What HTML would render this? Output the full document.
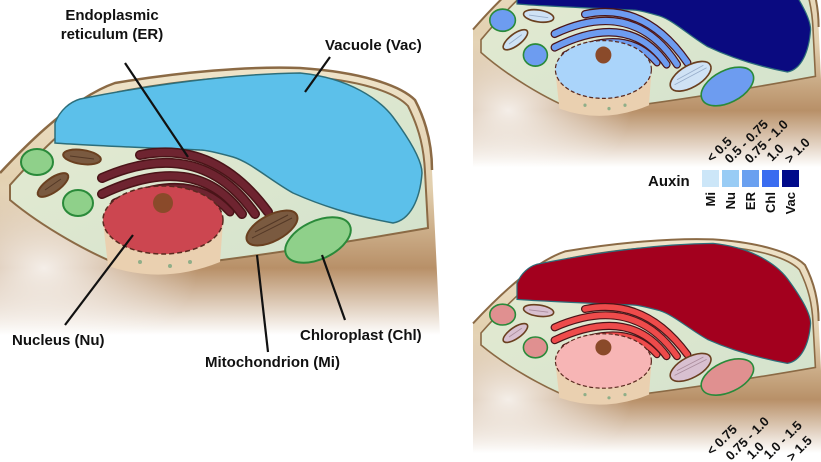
<!DOCTYPE html>
<html><head><meta charset="utf-8"><style>
html,body{margin:0;padding:0;background:#fff;}
svg{display:block;}
text{font-family:"Liberation Sans",sans-serif;font-weight:bold;fill:#111;}
</style></head><body>
<svg width="821" height="462" viewBox="0 0 821 462" xmlns="http://www.w3.org/2000/svg">
<defs>
<linearGradient id="wallg" x1="0" y1="0" x2="0" y2="1">
<stop offset="0" stop-color="#efe4ca"/><stop offset="0.45" stop-color="#e2cfae"/><stop offset="0.75" stop-color="#b89068"/><stop offset="1" stop-color="#ffffff"/>
</linearGradient>
<radialGradient id="leftlight" cx="0.1" cy="0.75" r="0.35">
<stop offset="0" stop-color="#ffffff" stop-opacity="0.85"/><stop offset="1" stop-color="#ffffff" stop-opacity="0"/>
</radialGradient>
<linearGradient id="floorg" x1="0" y1="0" x2="1" y2="1">
<stop offset="0" stop-color="#e6ebd2"/><stop offset="1" stop-color="#d2e2cc"/>
</linearGradient>
<g id="cell">
<path d="M0,173 C40,130 80,95 115,83 C180,72 250,66 300,68 C360,72 400,85 415,100 C428,125 432,150 432,170 L440,335 L0,335 Z" fill="url(#wallg)"/>
<path d="M0,173 C40,130 80,95 115,83 C180,72 250,66 300,68 C360,72 400,85 415,100 C428,125 432,150 432,170 L440,335 L0,335 Z" fill="url(#leftlight)"/>
<path d="M0,173 C40,130 80,95 115,83 C180,72 250,66 300,68 C360,72 400,85 415,100 C428,125 432,150 432,170" fill="none" stroke="#8b6a45" stroke-width="2.5"/>
<path d="M10,185 C50,140 90,105 118,92 C180,80 250,74 300,76 C360,80 395,92 408,106 C420,130 424,150 425,172 L428,228 C330,245 220,262 133,270 C90,255 40,225 10,200 Z" fill="url(#floorg)" stroke="#8b6a45" stroke-width="2"/>
<path d="M55,123 C60,110 70,102 80,99 C150,85 230,74 300,73 C350,78 380,100 393,117 C410,140 422,160 422,173 C420,200 410,220 393,223 C350,215 320,205 293,193 C270,180 250,162 233,157 C215,152 205,150 200,150 C150,148 80,145 55,143 Z" fill="var(--vac)" stroke="#2d6e7a" stroke-width="1.5"/>
<g fill="none" stroke-linecap="round">
<path d="M140,155 Q215,140 268,212" stroke="#4a1418" stroke-width="10"/>
<path d="M140,155 Q215,140 268,212" stroke="var(--er)" stroke-width="7"/>
<path d="M102,178 Q200,135 255,214" stroke="#4a1418" stroke-width="10"/>
<path d="M102,178 Q200,135 255,214" stroke="var(--er)" stroke-width="7"/>
<path d="M102,194 Q195,150 242,214" stroke="#4a1418" stroke-width="10"/>
<path d="M102,194 Q195,150 242,214" stroke="var(--er)" stroke-width="7"/>
<path d="M115,203 Q190,168 230,212" stroke="#4a1418" stroke-width="9"/>
<path d="M115,203 Q190,168 230,212" stroke="var(--er)" stroke-width="6"/>
</g>
<path d="M103,222 L108,266 Q163,285 220,262 L223,222 Z" fill="#ead0b0"/>
<g fill="#8fae88"><circle cx="140" cy="262" r="2"/><circle cx="170" cy="266" r="2"/><circle cx="190" cy="262" r="2"/></g>
<ellipse cx="163" cy="220" rx="60" ry="34" fill="var(--nu)" stroke="#5a2a20" stroke-width="1.5" stroke-dasharray="5,3"/>
<circle cx="163" cy="203" r="10" fill="#8a4a2a"/>
<g stroke="#6a4020" stroke-width="2">
<ellipse cx="82" cy="157" rx="19" ry="7" transform="rotate(8 82 157)" fill="var(--mi)"/>
<ellipse cx="53" cy="185" rx="18" ry="7" transform="rotate(-35 53 185)" fill="var(--mi)"/>
<ellipse cx="272" cy="228" rx="28" ry="13" transform="rotate(-28 272 228)" fill="var(--mi)"/>
</g>
<g stroke="var(--mis)" stroke-width="1" opacity="0.8">
<line x1="70" y1="156" x2="94" y2="159"/>
<line x1="45" y1="190" x2="61" y2="179"/>
<line x1="252" y1="238" x2="292" y2="218"/>
<line x1="255" y1="232" x2="288" y2="215"/>
</g>
<g stroke="#2a8a3a" stroke-width="2" fill="var(--chl)">
<ellipse cx="37" cy="162" rx="16" ry="13"/>
<ellipse cx="78" cy="203" rx="15" ry="13"/>
<ellipse cx="318" cy="240" rx="35" ry="19" transform="rotate(-25 318 240)"/>
</g>
</g>
</defs>

<use href="#cell" style="--vac:#5cc0ea;--nu:#cc4650;--er:#6e2430;--mi:#7a5a40;--mis:#4a3020;--chl:#8fd08a"/>
<use href="#cell" transform="translate(473,-117.5) scale(0.8,0.85)" style="--vac:#0a0a80;--nu:#aad4fa;--er:#6d9cf0;--mi:#cfe2f5;--mis:#8aa0c0;--chl:#6d9cf0"/>
<use href="#cell" transform="translate(473,185) scale(0.8,0.8)" style="--vac:#a3001e;--nu:#f7b5b5;--er:#ee4b4b;--mi:#d8c0d0;--mis:#a08090;--chl:#e09090"/>

<g stroke="#111" stroke-width="2.2">
<line x1="125" y1="63" x2="188" y2="157"/>
<line x1="330" y1="57" x2="305" y2="92"/>
<line x1="65" y1="325" x2="133" y2="235"/>
<line x1="268" y1="352" x2="257" y2="255"/>
<line x1="345" y1="320" x2="322" y2="255"/>
</g>
<g font-size="15">
<text x="112" y="20" text-anchor="middle">Endoplasmic</text>
<text x="112" y="39" text-anchor="middle">reticulum (ER)</text>
<text x="325" y="50">Vacuole (Vac)</text>
<text x="12" y="345">Nucleus (Nu)</text>
<text x="205" y="367">Mitochondrion (Mi)</text>
<text x="300" y="340">Chloroplast (Chl)</text>
<text x="648" y="186">Auxin</text>
</g>
<rect x="702" y="170" width="17" height="17" fill="#cce6f8"/>
<rect x="722" y="170" width="17" height="17" fill="#99ccf5"/>
<rect x="742" y="170" width="17" height="17" fill="#6aa0f0"/>
<rect x="762" y="170" width="17" height="17" fill="#3a6cf0"/>
<rect x="782" y="170" width="17" height="17" fill="#000a8a"/>
<g font-size="13">
<text transform="translate(715,192) rotate(-90)" text-anchor="end">Mi</text>
<text transform="translate(735,192) rotate(-90)" text-anchor="end">Nu</text>
<text transform="translate(755,192) rotate(-90)" text-anchor="end">ER</text>
<text transform="translate(775,192) rotate(-90)" text-anchor="end">Chl</text>
<text transform="translate(795,192) rotate(-90)" text-anchor="end">Vac</text>
<text transform="translate(712,163) rotate(-45)">&lt; 0.5</text>
<text transform="translate(730,164) rotate(-45)">0.5 - 0.75</text>
<text transform="translate(750,164) rotate(-45)">0.75 - 1.0</text>
<text transform="translate(772,162) rotate(-45)">1.0</text>
<text transform="translate(790,164) rotate(-45)">&gt; 1.0</text>
<text transform="translate(712,456) rotate(-45)">&lt; 0.75</text>
<text transform="translate(731,461) rotate(-45)">0.75 - 1.0</text>
<text transform="translate(752,460) rotate(-45)">1.0</text>
<text transform="translate(769,460) rotate(-45)">1.0 - 1.5</text>
<text transform="translate(792,462) rotate(-45)">&gt; 1.5</text>
</g>
</svg>
</body></html>
